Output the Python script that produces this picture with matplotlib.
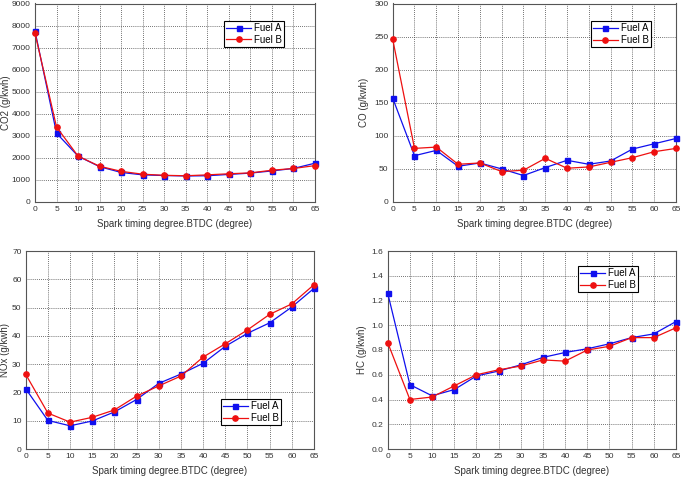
import matplotlib
matplotlib.use("Agg")
import matplotlib.pyplot as plt

plt.rcParams['font.family'] = ['Liberation Sans', 'DejaVu Sans']

x_deg = [0, 5, 10, 15, 20, 25, 30, 35, 40, 45, 50, 55, 60, 65]

co2_a = [7750, 3120, 2080, 1600, 1340, 1230, 1200, 1180, 1190, 1250, 1310, 1410, 1520, 1760]
co2_b = [7650, 3400, 2080, 1620, 1390, 1260, 1210, 1190, 1230, 1280, 1320, 1440, 1520, 1650]

co_a = [157, 70, 78, 54, 59, 50, 40, 52, 63, 57, 62, 80, 88, 96]
co_b = [246, 81, 83, 57, 59, 46, 48, 66, 51, 53, 60, 67, 76, 81]

nox_a = [21.3, 10.1, 8.2, 9.9, 13.1, 17.5, 23.2, 26.5, 30.3, 36.3, 40.9, 44.6, 50.2, 56.8]
nox_b = [26.4, 12.7, 9.5, 11.2, 13.8, 18.7, 22.3, 25.8, 32.5, 37.2, 42.1, 47.6, 51.3, 58.1]

hc_a = [1.26, 0.52, 0.43, 0.48, 0.59, 0.63, 0.68, 0.74, 0.78, 0.81, 0.85, 0.90, 0.93, 1.03]
hc_b = [0.86, 0.40, 0.42, 0.51, 0.60, 0.64, 0.67, 0.72, 0.71, 0.80, 0.83, 0.90, 0.90, 0.98]

series_labels = ["Fuel A", "Fuel B"]
xlabel = "Spark timing degree.BTDC (degree)"

W, H = 686, 480
fig = plt.figure(figsize=(W / 100, H / 100), dpi=100)


def make_ax(l, r, t, b):
    return fig.add_axes([l / W, 1 - b / H, (r - l) / W, (b - t) / H])


panels = [
    dict(box=(35, 315, 3.5, 202), a=co2_a, b=co2_b, ylabel="CO2 (g/kwh)",
         ylim=(0, 9000), yticks=[i * 1000 for i in range(10)], fmt="{:.0f}",
         leg=(0.675, 0.912), ylx=11),
    dict(box=(392.7, 676, 3.5, 202), a=co_a, b=co_b, ylabel="CO (g/kwh)",
         ylim=(0, 300), yticks=[i * 50 for i in range(7)], fmt="{:.0f}",
         leg=(0.699, 0.91), ylx=369),
    dict(box=(25.7, 314, 251, 449), a=nox_a, b=nox_b, ylabel="NOx (g/kwh)",
         ylim=(0, 70), yticks=[i * 10 for i in range(8)], fmt="{:.0f}",
         leg=(0.676, 0.251), ylx=10.5),
    dict(box=(387.7, 676, 251, 449), a=hc_a, b=hc_b, ylabel="HC (g/kwh)",
         ylim=(0, 1.6), yticks=[i * 0.2 for i in range(9)], fmt="{:.1f}",
         leg=(0.66, 0.924), ylx=367),
]

for p in panels:
    l, r, t, b = p["box"]
    ax = make_ax(l, r, t, b)
    ax.plot(x_deg, p["a"], color="#1010ee", marker="s", markersize=3.6, lw=0.9,
            label=series_labels[0], zorder=3, clip_on=False)
    ax.plot(x_deg, p["b"], color="#ee1010", marker="o", markersize=3.8, lw=0.9,
            label=series_labels[1], zorder=3, clip_on=False)
    ax.set_xlim(0, 65)
    ax.set_ylim(*p["ylim"])
    ax.set_xticks(x_deg)
    ax.set_yticks(p["yticks"])
    ax.set_yticklabels([p["fmt"].format(v) for v in p["yticks"]])
    ax.grid(True, color="#444444", linestyle=(0, (1, 1.5)), linewidth=0.6)
    ax.set_axisbelow(True)
    ax.tick_params(labelsize=6, length=0, pad=3, colors="#333333")
    for s in ax.spines.values():
        s.set_color("#555555")
        s.set_linewidth(0.8)
    ax.set_xlabel(xlabel, fontsize=7, color="#333333", labelpad=4)
    ax.set_ylabel(p["ylabel"], fontsize=7, color="#333333")
    ax.yaxis.set_label_coords((p["ylx"] - l) / (r - l), 0.5)
    leg = ax.legend(loc="upper left", bbox_to_anchor=p["leg"], fontsize=7,
                    frameon=True, fancybox=False, framealpha=1,
                    edgecolor="black", borderpad=0.2, labelspacing=0.2,
                    handlelength=2.6, handletextpad=0.3, borderaxespad=0)
    leg.get_frame().set_linewidth(0.8)

fig.savefig("out.png", dpi=100)
